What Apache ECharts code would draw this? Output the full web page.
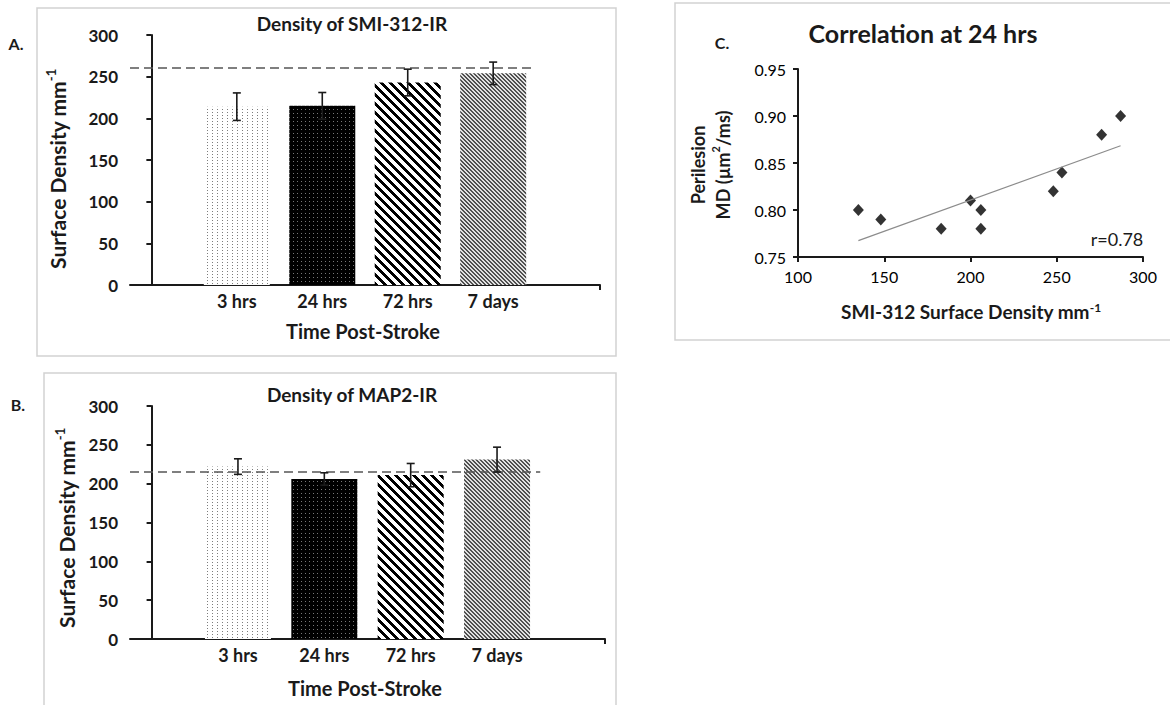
<!DOCTYPE html>
<html>
<head>
<meta charset="utf-8">
<title>Density of SMI-312-IR / MAP2-IR</title>
<script src="https://cdn.jsdelivr.net/npm/echarts@6.0.0/dist/echarts.min.js"></script>
<style>
html, body { margin: 0; padding: 0; background: #fff; }
#chart { width: 1170px; height: 705px; }
</style>
</head>
<body>
<div id="chart"></div>
<script>
// bar panels (A: SMI-312, B: MAP2), mean and error
const timePoints = ['3 hrs', '24 hrs', '72 hrs', '7 days'];
const smiDensity = [214, 215, 243, 254];
const smiError = [16.5, 16, 16, 13.5];
const smiBaseline = 261;
const map2Density = [222, 206, 211, 231];
const map2Error = [10, 8, 15, 16];
const map2Baseline = 215;

// scatter panel C, at 24 hrs
const smiAt24 = [135, 148, 183, 200, 206, 206, 248, 253, 276, 287];
const mdAt24 = [0.80, 0.79, 0.78, 0.81, 0.80, 0.78, 0.82, 0.84, 0.88, 0.90];
const rText = 'r=0.78';

const FONT = 'Lato, "Open Sans", sans-serif';
const INK = '#1a1a1a';

// small tiles for the Excel-like fills
const makeTile = (w, h, paint) => {
  const c = document.createElement('canvas');
  c.width = w; c.height = h;
  const ctx = c.getContext('2d');
  const img = ctx.createImageData(w, h);
  for (let y = 0; y < h; y++) {
    for (let x = 0; x < w; x++) {
      const g = paint(x, y);
      const k = (y * w + x) * 4;
      img.data[k] = g; img.data[k + 1] = g; img.data[k + 2] = g; img.data[k + 3] = 255;
    }
  }
  ctx.putImageData(img, 0, 0);
  return { image: c, repeat: 'repeat' };
};
const fills = [
  makeTile(5, 3, (x, y) => (x === 2 && y === 1) ? 125 : 255),
  makeTile(4, 4, (x, y) => (x === 1 && y === 1) ? 120 : 0),
  makeTile(9, 9, (x, y) => (((x - y) % 9) + 9) % 9 < 4 ? 0 : 255),
  makeTile(4, 4, (x, y) => (((x - y) % 4) + 4) % 4 < 2 ? 80 : 225)
];

// least squares trend for panel C
const fitLine = (xs, ys) => {
  const n = xs.length;
  const mx = xs.reduce((a, b) => a + b, 0) / n;
  const my = ys.reduce((a, b) => a + b, 0) / n;
  let sxy = 0, sxx = 0;
  xs.forEach((x, i) => { sxy += (x - mx) * (ys[i] - my); sxx += (x - mx) * (x - mx); });
  const b = sxy / sxx;
  const lo = Math.min(...xs), hi = Math.max(...xs);
  return [[lo, my + b * (lo - mx)], [hi, my + b * (hi - mx)]];
};

const errorBars = (api) => {
  const x = api.value(0), v = api.value(1), e = api.value(2);
  const top = api.coord([x, v + e]);
  const bot = api.coord([x, v - e]);
  const st = { stroke: INK, lineWidth: 1.6 };
  return {
    type: 'group',
    children: [
      { type: 'line', shape: { x1: top[0], y1: top[1], x2: bot[0], y2: bot[1] }, style: st },
      { type: 'line', shape: { x1: top[0] - 4, y1: top[1], x2: top[0] + 4, y2: top[1] }, style: st },
      { type: 'line', shape: { x1: bot[0] - 4, y1: bot[1], x2: bot[0] + 4, y2: bot[1] }, style: st }
    ]
  };
};

const barXAxis = (gridIndex) => ({
  gridIndex, type: 'value', min: -0.25, max: 5.25,
  axisLine: { show: true, onZero: false, lineStyle: { color: INK, width: 2 } },
  axisTick: { show: true, customValues: [5.25], length: 5, lineStyle: { color: INK, width: 2 } },
  axisLabel: {
    customValues: [1, 2, 3, 4],
    formatter: (v) => timePoints[Math.round(v) - 1],
    margin: 7, fontSize: 18, fontWeight: 'bold', color: INK, fontFamily: FONT
  },
  splitLine: { show: false }
});
const barYAxis = (gridIndex) => ({
  gridIndex, type: 'value', min: 0, max: 300, interval: 50,
  axisLine: { show: true, lineStyle: { color: INK, width: 2 } },
  axisTick: { show: true, length: 5, lineStyle: { color: INK, width: 2 } },
  axisLabel: { margin: 12, fontSize: 17, fontWeight: 'bold', color: INK, fontFamily: FONT },
  splitLine: { show: false }
});

const barSeries = (idx, values, baseline) => ({
  type: 'bar', xAxisIndex: idx, yAxisIndex: idx, barWidth: 66,
  data: values.map((v, i) => ({ value: [i + 1, v], itemStyle: { color: fills[i] } })),
  markLine: {
    silent: true, symbol: 'none', label: { show: false },
    lineStyle: { color: '#555', width: 1.6, type: [9, 5] },
    data: [[{ coord: [-0.25, baseline] }, { coord: [4.5, baseline] }]]
  }
});
const errSeries = (idx, values, errs) => ({
  type: 'custom', xAxisIndex: idx, yAxisIndex: idx, z: 5,
  renderItem: (params, api) => errorBars(api),
  encode: { x: 0, y: 1 },
  data: values.map((v, i) => [i + 1, v, errs[i]])
});

const txt = (x, y, text, size, weight, extra) => Object.assign({
  type: 'text', x, y,
  style: {
    text, fontSize: size, fontWeight: weight, fontFamily: FONT, fill: INK,
    align: 'center', verticalAlign: 'middle', textAlign: 'center', textVerticalAlign: 'middle'
  }
}, extra || {});
const supRich = (size, weight) => ({
  sup: { fontSize: Math.round(size * 0.62), fontWeight: weight, fontFamily: FONT, fill: INK, verticalAlign: 'top' }
});
const frame = (x, y, w, h) => ({
  type: 'rect', shape: { x, y, width: w, height: h }, silent: true,
  style: { fill: 'none', stroke: '#d2d2d2', lineWidth: 1.5 }
});

const yName = (x, y, text, size, lh) => {
  const t = txt(x, y, text, size, 'bold', { rotation: Math.PI / 2 });
  t.style.rich = supRich(size, 'bold');
  t.style.lineHeight = lh || size + 4;
  return t;
};

const chart = echarts.init(document.getElementById('chart'), null, { renderer: 'svg' });
chart.setOption({
  animation: false,
  backgroundColor: '#fff',
  grid: [
    { left: 130, top: 35, width: 470, height: 250 },
    { left: 130, top: 406, width: 475, height: 233 },
    { left: 798, top: 69, width: 345, height: 188 }
  ],
  xAxis: [
    barXAxis(0),
    barXAxis(1),
    {
      gridIndex: 2, type: 'value', min: 100, max: 300, interval: 50,
      axisLine: { show: true, onZero: false, lineStyle: { color: INK, width: 2 } },
      axisTick: { show: true, length: 5, lineStyle: { color: INK, width: 2 } },
      axisLabel: { margin: 11, fontSize: 16, color: '#000', fontFamily: FONT },
      splitLine: { show: false }
    }
  ],
  yAxis: [
    barYAxis(0),
    barYAxis(1),
    {
      gridIndex: 2, type: 'value', min: 0.75, max: 0.95, interval: 0.05,
      axisLine: { show: true, onZero: false, lineStyle: { color: INK, width: 2 } },
      axisTick: { show: true, length: 5, lineStyle: { color: INK, width: 2 } },
      axisLabel: { margin: 12, fontSize: 16, color: '#000', fontFamily: FONT, formatter: (v) => v.toFixed(2) },
      splitLine: { show: false }
    }
  ],
  series: [
    barSeries(0, smiDensity, smiBaseline),
    errSeries(0, smiDensity, smiError),
    barSeries(1, map2Density, map2Baseline),
    errSeries(1, map2Density, map2Error),
    {
      type: 'line', xAxisIndex: 2, yAxisIndex: 2, showSymbol: false, silent: true,
      lineStyle: { color: '#8c8c8c', width: 1.2 },
      data: fitLine(smiAt24, mdAt24)
    },
    {
      type: 'scatter', xAxisIndex: 2, yAxisIndex: 2, symbol: 'diamond', symbolSize: [11, 12],
      itemStyle: { color: '#000' },
      data: smiAt24.map((x, i) => [x, mdAt24[i]])
    }
  ],
  graphic: [
    frame(37, 8, 579, 348),
    frame(44, 373, 572, 340),
    frame(675, 3, 500, 337),
    txt(16, 43, 'A.', 16, 'bold'),
    txt(18, 404, 'B.', 16, 'bold'),
    txt(722, 42, 'C.', 16, 'bold'),
    txt(352, 23, 'Density of SMI-312-IR', 19, 'bold'),
    txt(352, 394, 'Density of MAP2-IR', 19, 'bold'),
    txt(363, 331, 'Time Post-Stroke', 20, 'bold'),
    txt(365, 688, 'Time Post-Stroke', 20, 'bold'),
    yName(57, 169, 'Surface Density mm{sup|-1}', 21),
    yName(66, 528, 'Surface Density mm{sup|-1}', 21),
    txt(923, 33, 'Correlation at 24 hrs', 25, 'bold'),
    yName(710, 165, 'Perilesion\nMD (µm{sup|2}/ms)', 18, 25),
    (() => {
      const t = txt(971, 311, 'SMI-312 Surface Density mm{sup|-1}', 19, 'bold');
      t.style.rich = supRich(19, 'bold');
      return t;
    })(),
    txt(1117, 239, rText, 18, 'normal')
  ]
});
</script>
</body>
</html>
